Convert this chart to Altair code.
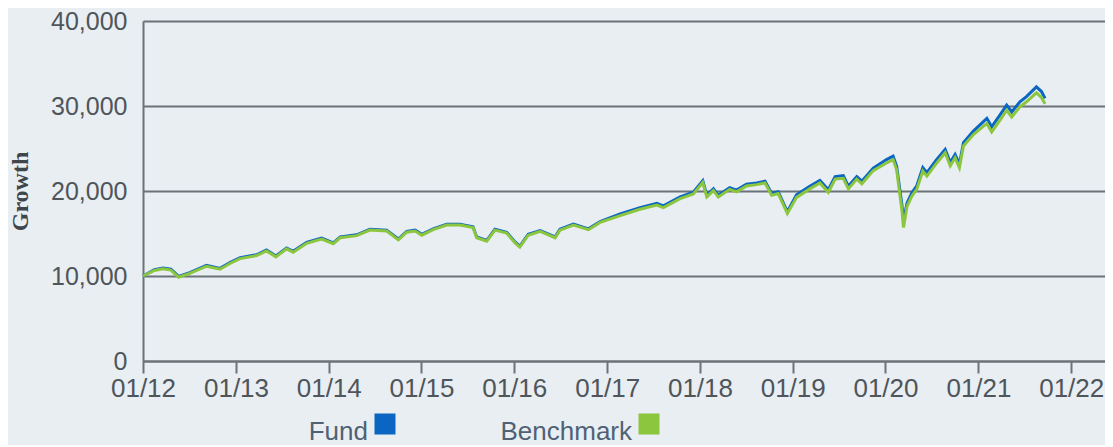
import altair as alt
import pandas as pd

dates = [
    "2012-01-01", "2012-02-15", "2012-03-20", "2012-04-20", "2012-05-20", "2012-07-03",
    "2012-09-07", "2012-10-30", "2012-12-10", "2013-01-17", "2013-03-23", "2013-05-01",
    "2013-06-07", "2013-07-19", "2013-08-14", "2013-10-06", "2013-12-04", "2014-01-19",
    "2014-02-15", "2014-04-21", "2014-06-12", "2014-08-17", "2014-10-02", "2014-11-04",
    "2014-12-07", "2015-01-02", "2015-02-16", "2015-04-10", "2015-06-01", "2015-07-23",
    "2015-08-06", "2015-09-15", "2015-10-17", "2015-12-02", "2016-01-04", "2016-01-23",
    "2016-02-25", "2016-04-12", "2016-06-10", "2016-06-29", "2016-08-21", "2016-10-19",
    "2016-12-04", "2017-02-21", "2017-05-10", "2017-07-15", "2017-08-10", "2017-10-15",
    "2017-12-06", "2018-01-12", "2018-01-28", "2018-02-23", "2018-03-14", "2018-04-28",
    "2018-05-25", "2018-07-03", "2018-08-12", "2018-09-14", "2018-10-10", "2018-11-05",
    "2018-12-11", "2019-01-16", "2019-03-09", "2019-04-18", "2019-05-21", "2019-06-17",
    "2019-07-19", "2019-08-08", "2019-09-10", "2019-09-30", "2019-11-14", "2020-01-05",
    "2020-01-31", "2020-02-14", "2020-03-06", "2020-03-12", "2020-03-26", "2020-04-14",
    "2020-05-03", "2020-05-27", "2020-06-12", "2020-07-21", "2020-08-23", "2020-09-12",
    "2020-10-01", "2020-10-18", "2020-11-03", "2020-12-12", "2021-02-03", "2021-02-22",
    "2021-03-27", "2021-04-22", "2021-05-12", "2021-06-13", "2021-07-09", "2021-08-17",
    "2021-09-06", "2021-09-20",
]

fund = [
    10000, 10750, 10950, 10800, 9950, 10400,
    11250, 10900, 11600, 12150, 12500, 13050,
    12350, 13300, 12900, 13950, 14450, 13900,
    14600, 14850, 15500, 15400, 14350, 15250,
    15400, 14900, 15550, 16100, 16100, 15800,
    14600, 14200, 15500, 15150, 14000, 13500,
    14900, 15350, 14600, 15500, 16100, 15550,
    16400, 17300, 18050, 18550, 18250, 19300,
    19850, 21200, 19500, 20250, 19500, 20400,
    20100, 20800, 20950, 21150, 19700, 19900,
    17550, 19550, 20550, 21250, 20150, 21700,
    21800, 20550, 21700, 21150, 22700, 23700,
    24100, 22900, 18300, 16500, 18600, 19800,
    20600, 22750, 22150, 23700, 24900, 23350,
    24300, 23150, 25700, 27050, 28550, 27550,
    28950, 30100, 29300, 30500, 31100, 32250,
    31700, 30900,
]

benchmark = [
    10000, 10650, 10850, 10700, 9850, 10300,
    11150, 10800, 11500, 12050, 12400, 12950,
    12250, 13200, 12800, 13850, 14350, 13800,
    14500, 14750, 15400, 15300, 14250, 15150,
    15300, 14800, 15450, 16000, 16000, 15700,
    14500, 14100, 15400, 15050, 13900, 13400,
    14800, 15250, 14500, 15400, 16000, 15450,
    16300, 17100, 17850, 18350, 18050, 19100,
    19650, 21000, 19300, 20050, 19300, 20200,
    19900, 20600, 20750, 20950, 19500, 19700,
    17350, 19250, 20250, 20950, 19850, 21400,
    21500, 20250, 21400, 20850, 22400, 23300,
    23700, 22500, 17700, 15700, 18200, 19400,
    20200, 22350, 21750, 23300, 24500, 22950,
    23900, 22750, 25300, 26650, 27950, 26950,
    28350, 29500, 28700, 29900, 30500, 31550,
    31000, 30250,
]

series_names = ["Fund", "Benchmark"]
series_colors = ["#0a66c2", "#8cc63f"]
year_ticks = list(range(2012, 2023))
y_ticks = [0, 10000, 20000, 30000, 40000]

df_fund = pd.DataFrame({"date": dates, "value": fund, "series": "Fund"})
df_bench = pd.DataFrame({"date": dates, "value": benchmark, "series": "Benchmark"})
df_legend = pd.DataFrame({"series": series_names})

grid_color = "#6b7379"
label_color = "#4e555b"
color_scale = alt.Scale(domain=series_names, range=series_colors)

x_enc = alt.X(
    "date:T",
    scale=alt.Scale(domain=["2012-01-01", "2022-05-14"]),
    axis=alt.Axis(
        values=[alt.DateTime(year=y, month=1, date=1) for y in year_ticks],
        format="%m/%y",
        title=None,
        grid=False,
        domainColor=grid_color,
        domainWidth=2,
        tickColor=grid_color,
        tickWidth=2,
        tickSize=12,
        labelFont="Liberation Sans",
        labelFontSize=26,
        labelColor=label_color,
        labelPadding=2,
        labelFlush=False,
    ),
)

y_enc = alt.Y(
    "value:Q",
    scale=alt.Scale(domain=[0, 40000], nice=False),
    axis=alt.Axis(
        values=y_ticks,
        format=",d",
        title="Growth",
        titleFont="Liberation Serif",
        titleFontWeight="bold",
        titleFontSize=24,
        titleColor="#3e454b",
        titlePadding=18,
        grid=True,
        gridColor=grid_color,
        gridWidth=2,
        gridOpacity=1,
        ticks=False,
        domainColor=grid_color,
        domainWidth=2,
        labelFont="Liberation Sans",
        labelFontSize=25,
        labelColor=label_color,
        labelPadding=16,
    ),
)

fund_line = alt.Chart(df_fund).mark_line(strokeWidth=3).encode(
    x=x_enc, y=y_enc, color=alt.Color("series:N", scale=color_scale, legend=None)
)
bench_line = alt.Chart(df_bench).mark_line(strokeWidth=3).encode(
    x=x_enc, y=y_enc, color=alt.Color("series:N", scale=color_scale, legend=None)
)
lines = alt.layer(fund_line, bench_line)

# custom legend below the plot: label to the left of each coloured square
legend_x = alt.X(
    "series:N",
    scale=alt.Scale(type="point", domain=series_names, range=[242, 506], padding=0),
    axis=None,
)
legend_squares = alt.Chart(df_legend).mark_square(size=441, filled=True, opacity=1).encode(
    x=legend_x,
    y=alt.value(403),
    color=alt.Color("series:N", scale=color_scale, legend=None),
)
legend_labels = alt.Chart(df_legend).mark_text(
    align="right",
    baseline="alphabetic",
    dx=-17,
    font="Liberation Sans",
    fontSize=26,
    color="#4f6275",
).encode(x=legend_x, y=alt.value(419), text="series:N")
legend = alt.layer(legend_squares, legend_labels)

chart = (
    alt.layer(lines, legend)
    .resolve_scale(x="independent")
    .properties(
        width=962,
        height=340,
        autosize=alt.AutoSizeParams(type="none"),
        padding={"left": 135, "top": 13, "right": 0, "bottom": 84},
        background="#e9eef2",
    )
    .configure_view(stroke=None)
)

chart.save("out.html", embed_options={"renderer": "svg", "actions": False})
